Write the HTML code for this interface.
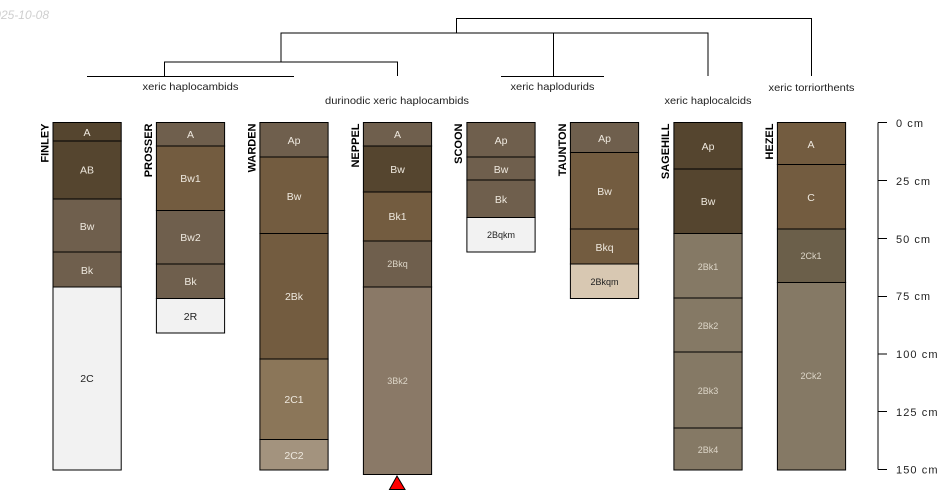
<!DOCTYPE html>
<html>
<head>
<meta charset="utf-8">
<style>
html,body{margin:0;padding:0;background:#fff;width:950px;height:500px;overflow:hidden}
svg{display:block}
text{font-family:"Liberation Sans",sans-serif}
.h{stroke:#000;stroke-width:1}
.t{font-size:10.5px;text-anchor:middle;fill:#eee8de}
.s{font-size:9px;text-anchor:middle;fill:#ddd6c8}
.d{fill:#222}
.n{font-size:11px;font-weight:bold;fill:#000;text-anchor:end}
.g{font-size:10.5px;fill:#222;text-anchor:middle}
.l{stroke:#000;stroke-width:1;fill:none}
.a{font-size:11px;fill:#222}
</style>
</head>
<body>
<svg width="950" height="500" viewBox="0 0 950 500" xmlns="http://www.w3.org/2000/svg">
<rect width="950" height="500" fill="#fff"/>
<text x="49" y="19" text-anchor="end" font-size="12" font-style="italic" fill="#cfcfcf">2025-10-08</text>

<!-- dendrogram -->
<path class="l" d="M456.500 33V18.500H811.500V76"/>
<path class="l" d="M281 62V33H708V76"/>
<path class="l" d="M553.500 76V33H630"/>
<path class="l" d="M164.500 76V62H397.500V76"/>
<path class="l" d="M87 76.500H294M501 76.500H604"/>

<text class="g" x="190.500" y="90" textLength="96" lengthAdjust="spacingAndGlyphs">xeric haplocambids</text>
<text class="g" x="397" y="104" textLength="144" lengthAdjust="spacingAndGlyphs">durinodic xeric haplocambids</text>
<text class="g" x="552.500" y="90" textLength="84" lengthAdjust="spacingAndGlyphs">xeric haplodurids</text>
<text class="g" x="708" y="104" textLength="87" lengthAdjust="spacingAndGlyphs">xeric haplocalcids</text>
<text class="g" x="811.500" y="91" textLength="86" lengthAdjust="spacingAndGlyphs">xeric torriorthents</text>

<!-- FINLEY -->
<text class="n" transform="translate(48.500 123.500) rotate(-90)">FINLEY</text>
<g class="h">
<rect x="53" y="122.500" width="68.200" height="18.500" fill="#55452f"/>
<rect x="53" y="141" width="68.200" height="58" fill="#55452f"/>
<rect x="53" y="199" width="68.200" height="53" fill="#6f5f4d"/>
<rect x="53" y="252" width="68.200" height="35" fill="#6f5f4d"/>
<rect x="53" y="287" width="68.200" height="183" fill="#f2f2f2"/>
</g>
<text class="t" x="87" y="136">A</text><text class="t" x="87" y="173.500">AB</text><text class="t" x="87" y="230">Bw</text><text class="t" x="87" y="274">Bk</text><text class="t d" x="87" y="382">2C</text>

<!-- PROSSER -->
<text class="n" transform="translate(152 123.500) rotate(-90)">PROSSER</text>
<g class="h">
<rect x="156.400" y="122.500" width="68.200" height="23.500" fill="#6f5f4d"/>
<rect x="156.400" y="146" width="68.200" height="64.500" fill="#735c40"/>
<rect x="156.400" y="210.500" width="68.200" height="53.500" fill="#6f5f4d"/>
<rect x="156.400" y="264" width="68.200" height="34.500" fill="#6f5f4d"/>
<rect x="156.400" y="298.500" width="68.200" height="34.500" fill="#f2f2f2"/>
</g>
<text class="t" x="190.500" y="138">A</text><text class="t" x="190.500" y="182">Bw1</text><text class="t" x="190.500" y="241">Bw2</text><text class="t" x="190.500" y="285">Bk</text><text class="t d" x="190.500" y="320">2R</text>

<!-- WARDEN -->
<text class="n" transform="translate(255.500 123.500) rotate(-90)">WARDEN</text>
<g class="h">
<rect x="259.900" y="122.500" width="68.200" height="34.500" fill="#6f5f4d"/>
<rect x="259.900" y="157" width="68.200" height="76.500" fill="#735c40"/>
<rect x="259.900" y="233.500" width="68.200" height="125.500" fill="#735c40"/>
<rect x="259.900" y="359" width="68.200" height="80.500" fill="#8b7659"/>
<rect x="259.900" y="439.500" width="68.200" height="30.500" fill="#a3937e"/>
</g>
<text class="t" x="294" y="144">Ap</text><text class="t" x="294" y="200">Bw</text><text class="t" x="294" y="300">2Bk</text><text class="t" x="294" y="403">2C1</text><text class="t" x="294" y="459">2C2</text>

<!-- NEPPEL -->
<text class="n" transform="translate(359 123.500) rotate(-90)">NEPPEL</text>
<g class="h">
<rect x="363.400" y="122.500" width="68.200" height="23.500" fill="#6f5f4d"/>
<rect x="363.400" y="146" width="68.200" height="46" fill="#55452f"/>
<rect x="363.400" y="192" width="68.200" height="49" fill="#735c40"/>
<rect x="363.400" y="241" width="68.200" height="46" fill="#6f5f4d"/>
<rect x="363.400" y="287" width="68.200" height="187.500" fill="#8a7967"/>
</g>
<text class="t" x="397.500" y="138">A</text><text class="t" x="397.500" y="173">Bw</text><text class="t" x="397.500" y="220">Bk1</text><text class="s" x="397.500" y="267">2Bkq</text><text class="s" x="397.500" y="384">3Bk2</text>
<polygon points="397,476 389.500,489.500 405,489.500" fill="#f00" stroke="#000" stroke-width="1"/>

<!-- SCOON -->
<text class="n" transform="translate(462 123.500) rotate(-90)">SCOON</text>
<g class="h">
<rect x="466.900" y="122.500" width="68.200" height="34.500" fill="#6f5f4d"/>
<rect x="466.900" y="157" width="68.200" height="23" fill="#6f5f4d"/>
<rect x="466.900" y="180" width="68.200" height="37.500" fill="#6f5f4d"/>
<rect x="466.900" y="217.500" width="68.200" height="34.500" fill="#f2f2f2"/>
</g>
<text class="t" x="501" y="144">Ap</text><text class="t" x="501" y="173">Bw</text><text class="t" x="501" y="203">Bk</text><text class="s d" x="501" y="238">2Bqkm</text>

<!-- TAUNTON -->
<text class="n" transform="translate(566 123.500) rotate(-90)">TAUNTON</text>
<g class="h">
<rect x="570.400" y="122.500" width="68.200" height="30" fill="#6f5f4d"/>
<rect x="570.400" y="152.500" width="68.200" height="76.500" fill="#735c40"/>
<rect x="570.400" y="229" width="68.200" height="35" fill="#735c40"/>
<rect x="570.400" y="264" width="68.200" height="34.500" fill="#d8c8b2"/>
</g>
<text class="t" x="604.500" y="142">Ap</text><text class="t" x="604.500" y="195">Bw</text><text class="t" x="604.500" y="251">Bkq</text><text class="s d" x="604.500" y="285">2Bkqm</text>

<!-- SAGEHILL -->
<text class="n" transform="translate(669 123.500) rotate(-90)">SAGEHILL</text>
<g class="h">
<rect x="673.900" y="122.500" width="68.200" height="46.500" fill="#55452f"/>
<rect x="673.900" y="169" width="68.200" height="64.500" fill="#55452f"/>
<rect x="673.900" y="233.500" width="68.200" height="64.500" fill="#857965"/>
<rect x="673.900" y="298" width="68.200" height="54" fill="#857965"/>
<rect x="673.900" y="352" width="68.200" height="76" fill="#857965"/>
<rect x="673.900" y="428" width="68.200" height="42" fill="#857965"/>
</g>
<text class="t" x="708" y="150">Ap</text><text class="t" x="708" y="205">Bw</text><text class="s" x="708" y="270">2Bk1</text><text class="s" x="708" y="329">2Bk2</text><text class="s" x="708" y="394">2Bk3</text><text class="s" x="708" y="453">2Bk4</text>

<!-- HEZEL -->
<text class="n" transform="translate(773 123.500) rotate(-90)">HEZEL</text>
<g class="h">
<rect x="777.400" y="122.500" width="68.200" height="42" fill="#735c40"/>
<rect x="777.400" y="164.500" width="68.200" height="64.500" fill="#735c40"/>
<rect x="777.400" y="229" width="68.200" height="53.500" fill="#6b5f4a"/>
<rect x="777.400" y="282.500" width="68.200" height="187.500" fill="#857965"/>
</g>
<text class="t" x="811" y="148">A</text><text class="t" x="811" y="201">C</text><text class="s" x="811" y="259">2Ck1</text><text class="s" x="811" y="379">2Ck2</text>

<!-- depth axis -->
<path class="l" d="M878 122.500V469.500M878 122.500H887M878 180.500H887M878 238.500H887M878 296.500H887M878 354H887M878 411.500H887M878 469.500H887"/>
<text class="a" x="896" y="127" textLength="27">0 cm</text>
<text class="a" x="896" y="185" textLength="34">25 cm</text>
<text class="a" x="896" y="243" textLength="34">50 cm</text>
<text class="a" x="896" y="300" textLength="34">75 cm</text>
<text class="a" x="896" y="358" textLength="41.500">100 cm</text>
<text class="a" x="896" y="416" textLength="41.500">125 cm</text>
<text class="a" x="896" y="473.500" textLength="41.500">150 cm</text>
</svg>
</body>
</html>
